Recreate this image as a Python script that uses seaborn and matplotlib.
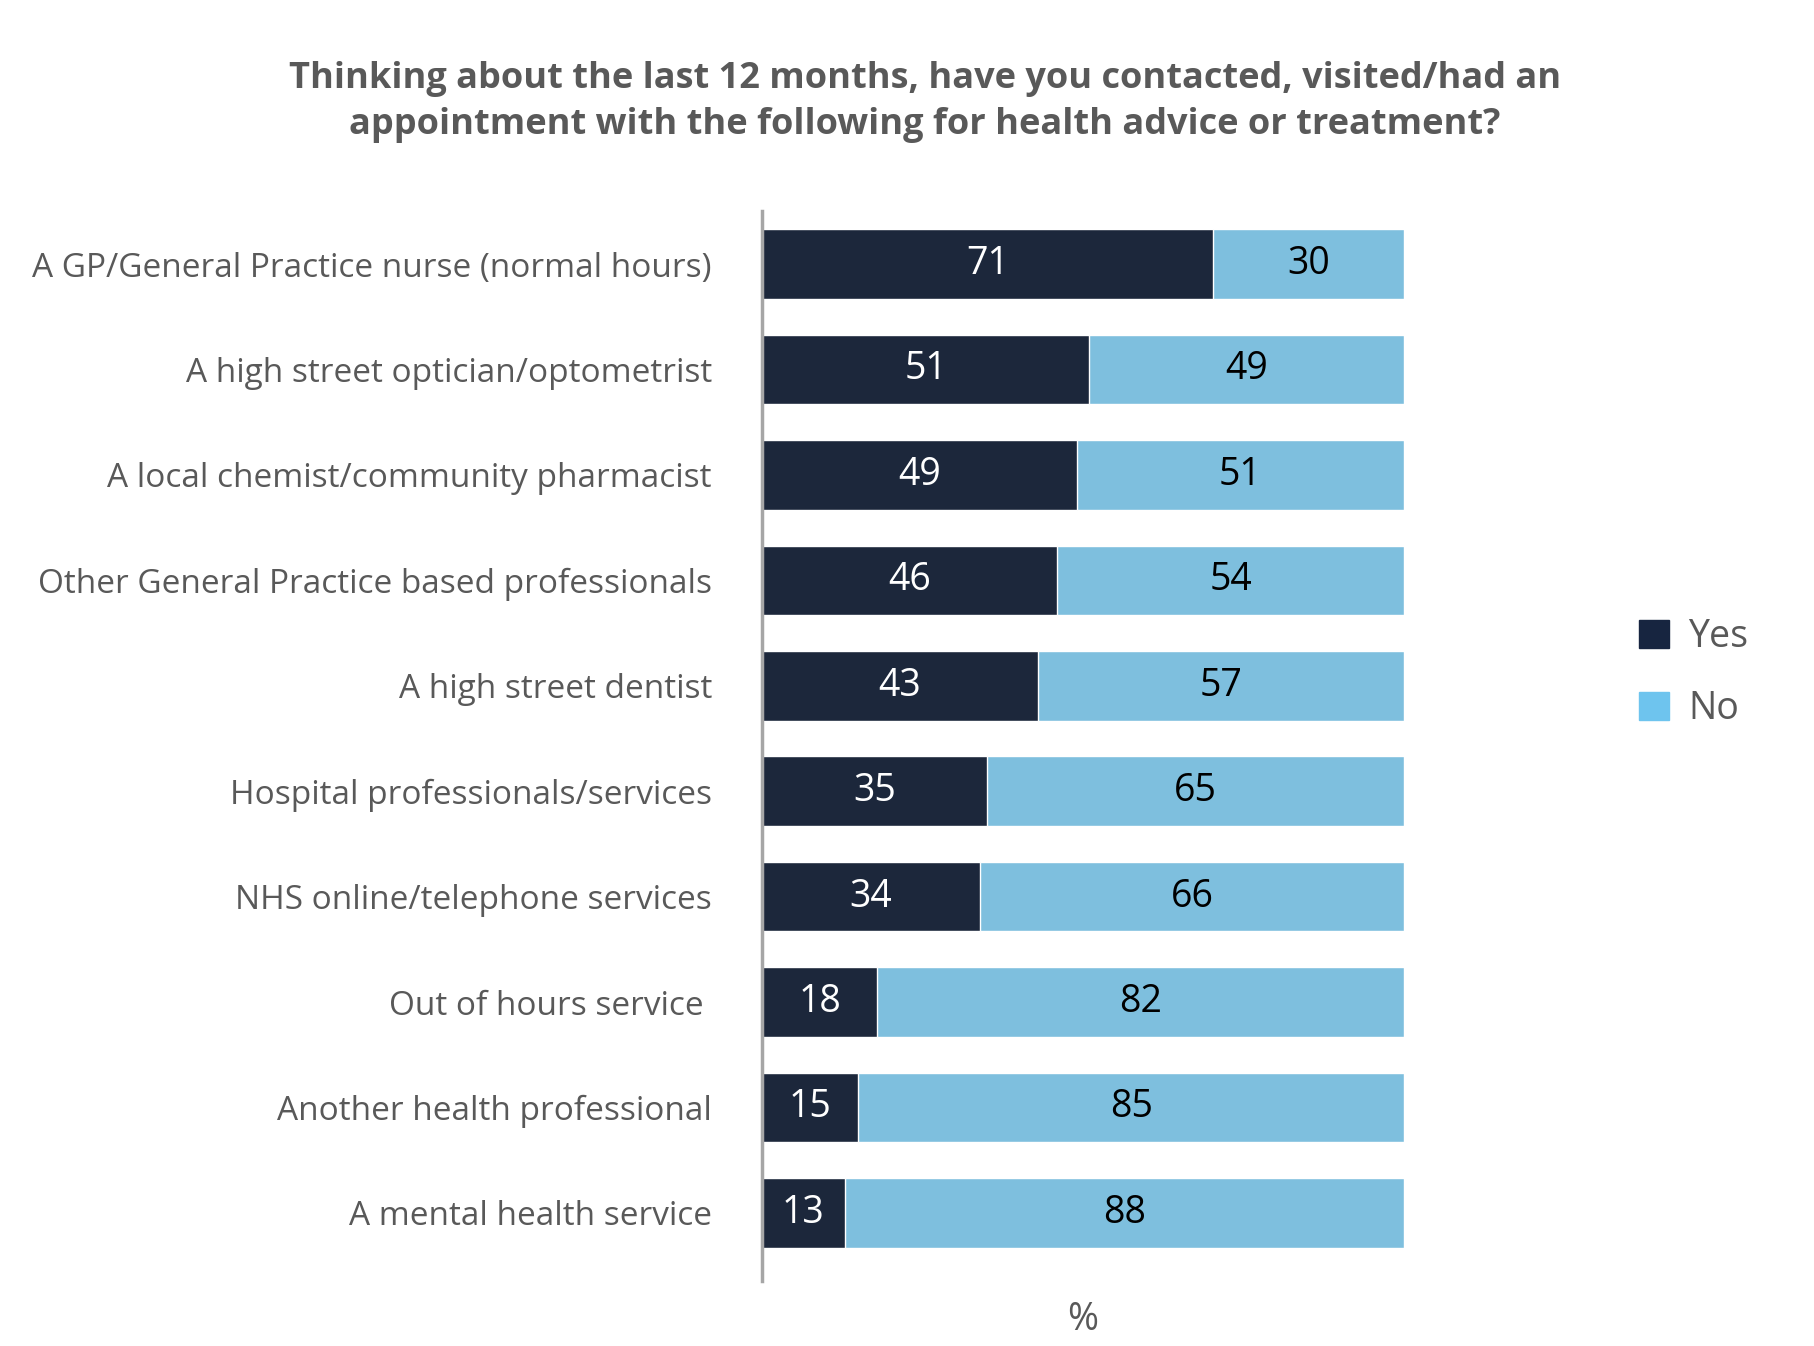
import matplotlib
matplotlib.use("Agg")
import matplotlib.pyplot as plt
import seaborn as sns
import pandas as pd
from matplotlib.patches import Patch

categories = [
    "A GP/General Practice nurse (normal hours)",
    "A high street optician/optometrist",
    "A local chemist/community pharmacist",
    "Other General Practice based professionals",
    "A high street dentist",
    "Hospital professionals/services",
    "NHS online/telephone services",
    "Out of hours service ",
    "Another health professional",
    "A mental health service",
]
yes = [71, 51, 49, 46, 43, 35, 34, 18, 15, 13]
no = [30, 49, 51, 54, 57, 65, 66, 82, 85, 88]

dark = "#172540"
light = "#6EC4EE"
text_col = "#595959"

sns.set_theme(style="white")
plt.rcParams["font.family"] = ["Open Sans", "DejaVu Sans"]

df = pd.DataFrame({"category": categories, "Yes": yes, "No": no})
tot = df["Yes"] + df["No"]
df["yes_pct"] = df["Yes"] / tot * 100
df["total"] = 100.0

fig = plt.figure(figsize=(18.14, 13.46), dpi=100)
ax = fig.add_axes([0.42, 0.048, 0.354, 0.795])

sns.barplot(data=df, x="total", y="category", color=light, width=0.66, ax=ax, orient="h")
sns.barplot(data=df, x="yes_pct", y="category", color=dark, width=0.66, ax=ax, orient="h")

for i, row in df.iterrows():
    ax.text(row["yes_pct"] / 2, i, str(row["Yes"]), ha="center", va="center",
            color="white", fontsize=27)
    ax.text(row["yes_pct"] + (100 - row["yes_pct"]) / 2, i, str(row["No"]),
            ha="center", va="center", color="black", fontsize=27)

ax.set_xlim(0, 100)
ax.set_ylim(len(categories) - 0.35, -0.5)
ax.set_xticks([])
ax.set_xlabel("%", fontsize=27, color=text_col, labelpad=14)
ax.set_ylabel("")
ax.tick_params(axis="y", length=0, labelsize=24, labelcolor=text_col, pad=36)
for s in ["top", "right", "bottom"]:
    ax.spines[s].set_visible(False)
ax.spines["left"].set_color("#A6A6A6")
ax.spines["left"].set_linewidth(2.5)

fig.suptitle("Thinking about the last 12 months, have you contacted, visited/had an\n"
             "appointment with the following for health advice or treatment?",
             x=0.51, y=0.955, fontsize=26, fontweight="bold", color=text_col, linespacing=1.4)

handles = [Patch(color=dark, label="Yes"), Patch(color=light, label="No")]
fig.legend(handles=handles, loc="center left", bbox_to_anchor=(0.885, 0.5), frameon=False,
           fontsize=27, labelcolor=text_col, handlelength=0.8, handleheight=0.8,
           handletextpad=0.5, labelspacing=0.9)

fig.savefig("out.png", dpi=100)
